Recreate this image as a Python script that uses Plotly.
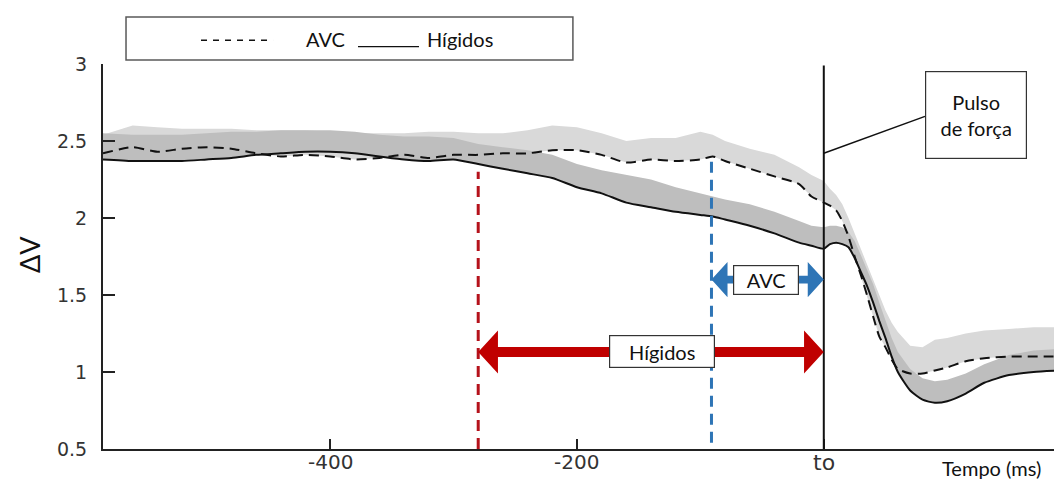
import plotly.graph_objects as go

# ---------------- data ----------------
t_ms = [-584, -560, -540, -520, -500, -480, -460, -440, -420, -400, -380, -360, -340,
        -320, -300, -280, -260, -240, -220, -200, -180, -160, -140, -120, -100,
        -90, -80, -60, -40, -20, -10, 0,
        5, 10, 15, 20, 25, 30, 35, 40, 45, 50, 55, 60,
        70, 80, 90, 100, 115, 130, 150, 170, 193]

higidos = [2.38, 2.37, 2.37, 2.37, 2.38, 2.39, 2.41, 2.42, 2.43, 2.43, 2.42, 2.40, 2.38,
           2.37, 2.38, 2.35, 2.32, 2.29, 2.26, 2.20, 2.16, 2.10, 2.07, 2.04, 2.02,
           2.01, 1.99, 1.95, 1.90, 1.84, 1.82, 1.80,
           1.83, 1.84, 1.83, 1.81, 1.74, 1.65, 1.56, 1.45, 1.33, 1.22, 1.10, 1.00,
           0.88, 0.82, 0.80, 0.81, 0.86, 0.93, 0.98, 1.00, 1.01]

higidos_band_top = [2.55, 2.54, 2.54, 2.54, 2.55, 2.56, 2.56, 2.57, 2.57, 2.57, 2.56, 2.54, 2.53,
                    2.53, 2.52, 2.48, 2.46, 2.44, 2.41, 2.35, 2.31, 2.28, 2.25, 2.20, 2.16,
                    2.14, 2.12, 2.09, 2.04, 1.98, 1.95, 1.94,
                    1.95, 1.95, 1.94, 1.91, 1.85, 1.76, 1.67, 1.57, 1.45, 1.34, 1.22, 1.13,
                    1.02, 0.96, 0.94, 0.95, 0.99, 1.05, 1.11, 1.14, 1.15]

avc = [2.42, 2.46, 2.43, 2.45, 2.46, 2.45, 2.42, 2.40, 2.41, 2.40, 2.38, 2.39, 2.41,
       2.39, 2.41, 2.41, 2.42, 2.42, 2.44, 2.44, 2.41, 2.36, 2.38, 2.37, 2.38,
       2.40, 2.37, 2.32, 2.27, 2.22, 2.14, 2.10,
       2.08, 2.05, 1.98, 1.88, 1.75, 1.63, 1.50, 1.36, 1.23, 1.16, 1.08, 1.02,
       0.99, 0.99, 1.01, 1.03, 1.07, 1.09, 1.10, 1.10, 1.10]

avc_band_top = [2.54, 2.60, 2.59, 2.58, 2.58, 2.58, 2.57, 2.57, 2.57, 2.56, 2.55, 2.55, 2.55,
                2.56, 2.56, 2.55, 2.55, 2.57, 2.60, 2.59, 2.55, 2.50, 2.52, 2.52, 2.56,
                2.54, 2.50, 2.45, 2.41, 2.33, 2.28, 2.24,
                2.19, 2.15, 2.09, 2.00, 1.90, 1.80, 1.70, 1.61, 1.50, 1.40, 1.32, 1.26,
                1.17, 1.16, 1.21, 1.22, 1.25, 1.27, 1.28, 1.29, 1.29]

x_ticks = [-400, -200, 0]
x_tick_labels = ["-400", "-200", "to"]
y_ticks = [0.5, 1, 1.5, 2, 2.5, 3]
y_tick_labels = ["0.5", "1", "1.5", "2", "2.5", "3"]

onset_higidos = -280   # ms
onset_avc = -91        # ms
pulse_t = 0            # ms

# ---------------- style ----------------
LIGHT = "#D9D9D9"
DARK = "#BEBEBE"
RED = "#C00000"
RED_DASH = "#B5121B"
BLUE = "#2E75B6"
TXT_FONT = "Lato, Open Sans, sans-serif"
NUM_FONT = "DejaVu Sans, sans-serif"
AVC_DASH = "10px,6px"

fig = go.Figure()

# AVC band (light)
fig.add_trace(go.Scatter(x=t_ms, y=avc, mode="lines", line=dict(width=0),
                         showlegend=False, hoverinfo="skip"))
fig.add_trace(go.Scatter(x=t_ms, y=avc_band_top, mode="lines", line=dict(width=0),
                         fill="tonexty", fillcolor=LIGHT, showlegend=False, hoverinfo="skip"))
# Hígidos band (dark)
fig.add_trace(go.Scatter(x=t_ms, y=higidos, mode="lines", line=dict(width=0),
                         showlegend=False, hoverinfo="skip"))
fig.add_trace(go.Scatter(x=t_ms, y=higidos_band_top, mode="lines", line=dict(width=0),
                         fill="tonexty", fillcolor=DARK, showlegend=False, hoverinfo="skip"))
# mean lines
fig.add_trace(go.Scatter(x=t_ms, y=avc, mode="lines", name="AVC",
                         line=dict(color="#111111", width=2, dash=AVC_DASH, shape="spline", smoothing=0.6),
                         showlegend=False))
fig.add_trace(go.Scatter(x=t_ms, y=higidos, mode="lines", name="Hígidos",
                         line=dict(color="#111111", width=2, shape="spline", smoothing=0.6),
                         showlegend=False))

shapes = []
# pulse line at t0
shapes.append(dict(type="line", xref="x", yref="y", x0=pulse_t, x1=pulse_t, y0=0.5, y1=2.99,
                   line=dict(color="#111111", width=2)))
# onset dashed lines
shapes.append(dict(type="line", xref="x", yref="y", x0=onset_higidos, x1=onset_higidos,
                   y0=0.5, y1=2.30, line=dict(color=RED_DASH, width=3, dash="11px,7px")))
shapes.append(dict(type="line", xref="x", yref="y", x0=onset_avc, x1=onset_avc,
                   y0=0.54, y1=2.37, line=dict(color=BLUE, width=3, dash="11px,7px")))


def double_arrow(x0, x1, y, head_len, head_half, shaft_half):
    return ("M {a},{y} L {b},{yh} L {b},{ys} L {c},{ys} L {c},{yh} L {d},{y} "
            "L {c},{yl} L {c},{ysl} L {b},{ysl} L {b},{yl} Z").format(
        a=x0, b=x0 + head_len, c=x1 - head_len, d=x1, y=y,
        yh=y + head_half, ys=y + shaft_half, yl=y - head_half, ysl=y - shaft_half)


red_y = 1.13
blue_y = 1.60
shapes.append(dict(type="path", xref="x", yref="y",
                   path=double_arrow(onset_higidos, pulse_t, red_y, 16, 0.14, 0.033),
                   fillcolor=RED, line=dict(width=0)))
shapes.append(dict(type="path", xref="x", yref="y",
                   path=double_arrow(onset_avc, pulse_t, blue_y, 13, 0.115, 0.025),
                   fillcolor=BLUE, line=dict(width=0)))
# connector for "Pulso de força"
shapes.append(dict(type="line", xref="x", yref="y", x0=pulse_t, y0=2.42, x1=82, y1=2.66,
                   line=dict(color="#111111", width=1.5)))
# legend box (paper coords)
shapes.append(dict(type="rect", xref="paper", yref="paper", x0=0.024, x1=0.490,
                   y0=1.0104, y1=1.122, line=dict(color="#595959", width=1.5),
                   fillcolor="white", layer="above"))
# legend symbols
leg_y = 1.066
shapes.append(dict(type="line", xref="paper", yref="paper", x0=0.1022, x1=0.1773,
                   y0=leg_y - 0.004, y1=leg_y - 0.004, layer="above",
                   line=dict(color="#111111", width=1.5, dash="6px,6px")))
shapes.append(dict(type="line", xref="paper", yref="paper", x0=0.2659, x1=0.3295,
                   y0=leg_y - 0.021, y1=leg_y - 0.021, layer="above",
                   line=dict(color="#111111", width=1.3)))

annotations = []


def txt(x, y, text, size, xref="paper", yref="paper", family=TXT_FONT, color="#111111", **kw):
    d = dict(xref=xref, yref=yref, x=x, y=y, text=text, showarrow=False,
             xanchor="center", yanchor="middle",
             font=dict(family=family, size=size, color=color))
    d.update(kw)
    return d


# legend text
annotations += [
    txt(0.2325, leg_y, "AVC", 20),
    txt(0.372, leg_y, "Hígidos", 20),
]
# label boxes
annotations.append(txt(-47, blue_y, "AVC", 20, xref="x", yref="y",
                       bgcolor="white", bordercolor="#333333", borderwidth=1.2, borderpad=2,
                       width=60, height=24))
annotations.append(txt(-131, red_y, "Hígidos", 20, xref="x", yref="y",
                       bgcolor="white", bordercolor="#333333", borderwidth=1.2, borderpad=2,
                       width=100, height=27))
annotations.append(txt(123, 2.67, "Pulso<br>de força", 20, xref="x", yref="y",
                       bgcolor="white", bordercolor="#333333", borderwidth=1.2, borderpad=2,
                       width=96, height=82))
# axis titles
annotations.append(txt(-0.076, 0.504, "ΔV", 27, textangle=-90))
annotations.append(txt(0.927, -0.05, "Tempo (ms)", 20))
# x tick labels
for xv, lab in zip(x_ticks, x_tick_labels):
    annotations.append(txt(xv, -0.034, lab, 22 if lab == "to" else 20, xref="x",
                           family=NUM_FONT, color="#333333"))

fig.update_layout(
    width=1054, height=474,
    margin=dict(l=95, r=0, t=56, b=33),
    paper_bgcolor="white", plot_bgcolor="white",
    shapes=shapes, annotations=annotations, showlegend=False,
    xaxis=dict(range=[-584, 193], showgrid=False, zeroline=False,
               showline=True, linecolor="#222222", linewidth=2,
               ticks="inside", ticklen=10, tickwidth=1.5, tickcolor="#222222",
               tickvals=x_ticks, showticklabels=False),
    yaxis=dict(range=[0.5, 3], showgrid=False, zeroline=False,
               showline=True, linecolor="#222222", linewidth=2,
               ticks="inside", ticklen=12, tickwidth=1.5, tickcolor="#222222",
               tickvals=y_ticks, ticktext=y_tick_labels, ticklabelstandoff=10,
               tickfont=dict(family=NUM_FONT, size=19, color="#333333")),
)

fig.write_html("out.html")
